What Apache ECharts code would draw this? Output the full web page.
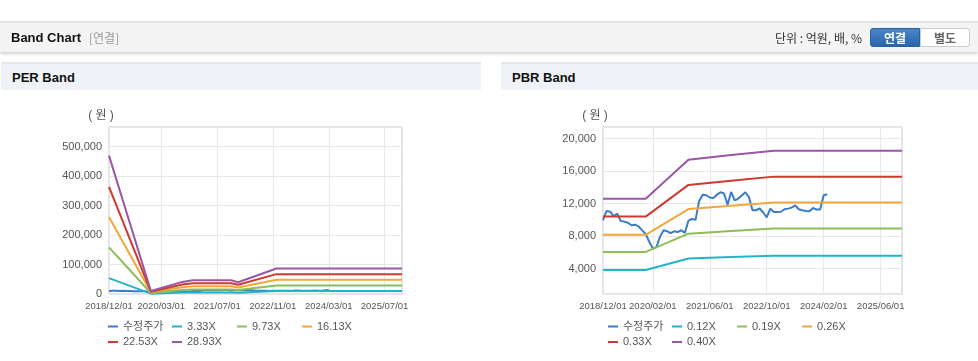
<!DOCTYPE html>
<html><head><meta charset="utf-8">
<script src="https://cdn.jsdelivr.net/npm/echarts@6/dist/echarts.min.js"></script>
<style>
html,body{margin:0;padding:0;background:#fff;width:978px;height:361px;overflow:hidden;font-family:'Liberation Sans','Noto Sans CJK KR',sans-serif;}
#chart{position:absolute;left:0;top:0;width:978px;height:361px;z-index:0;}
.bar{position:absolute;left:0;top:21px;width:978px;height:29px;background:#f4f4f4;border-top:2px solid #e2e2e2;box-shadow:0 2px 3px rgba(0,0,0,0.18);z-index:1;}
.bar .t{position:absolute;left:11px;top:7px;font-size:13px;font-weight:bold;color:#111;}
.bar .s{position:absolute;left:89px;top:8px;font-size:12px;color:#999;font-family:'Noto Sans CJK KR',sans-serif;line-height:14px;}
.bar .u{position:absolute;right:116px;top:7px;font-size:12px;color:#333;font-family:'Noto Sans CJK KR',sans-serif;line-height:15px;}
.btn{position:absolute;top:5px;height:19px;width:50px;font-size:12px;font-weight:bold;text-align:center;line-height:17px;font-family:'Noto Sans CJK KR',sans-serif;box-sizing:border-box;}
.b1{left:870px;background:linear-gradient(#4a86c8,#2a65ac);color:#fff;border-radius:3px 0 0 3px;border:1px solid #2a5f9e;}
.b2{left:920px;background:#fff;color:#666;border:1px solid #ccc;border-radius:0 3px 3px 0;}
.sec{position:absolute;top:62px;height:26px;background:#eff2f6;border-top:2px solid #e4e7eb;z-index:1;}
.sec span{position:absolute;left:11px;top:6px;font-size:13px;font-weight:bold;color:#111;}
</style></head>
<body>
<div class="bar"><span class="t">Band Chart</span><span class="s">[연결]</span><span class="u">단위 : 억원, 배, %</span>
<div class="btn b1">연결</div><div class="btn b2">별도</div></div>
<div class="sec" style="left:1px;width:480px;"><span>PER Band</span></div>
<div class="sec" style="left:501px;width:477px;"><span>PBR Band</span></div>
<div id="chart"></div>
<script>
// ---- categories (monthly) ----
const months = [];
for (let y = 2018, m = 12; months.length < 85; ) {
  months.push(y + '/' + String(m).padStart(2, '0') + '/01');
  m++; if (m > 12) { m = 1; y++; }
}
// ---- adjusted price (수정주가), monthly from 2018/12 ----
const price = [9950, 11100, 11000, 10450, 10750, 9850, 9780, 9650, 9330, 9400, 9200, 8700, 8250, 7300, 6460, 6650,
  7900, 8720, 8600, 8350, 8590, 8500, 8720, 8400, 9900, 10100, 10000, 12300, 13100, 13030, 12750, 12700,
  13100, 13400, 13250, 11850, 13430, 12400, 12620, 13000, 13400, 12800, 11180, 11180, 11400, 10900, 10300, 11380,
  10970, 10970, 11000, 11300, 11380, 11500, 11790, 11300, 11180, 11100, 11050, 11460, 11260, 11260, 13020, 13150];

// ---- PER band key points ----
const perDates = ['2018/12/01', '2019/12/01', '2020/09/01', '2020/12/01', '2021/11/01', '2022/01/01', '2022/12/01', '2025/12/01'];
const per333 = [54000, 1170, 4720, 5360, 5360, 4610, 9950, 9950];
const per973 = [158000, 3410, 13790, 15670, 15670, 13460, 29060, 29060];
const per1613 = [261000, 5650, 22860, 25970, 25970, 22310, 48180, 48180];
const per2253 = [363000, 7890, 31930, 36270, 36270, 31160, 67300, 67300];
const per2893 = [469000, 10130, 41000, 46580, 46580, 40010, 86410, 86410];

// ---- PBR band key points ----
const pbrDates = ['2018/12/01', '2019/12/01', '2020/12/01', '2021/12/01', '2022/12/01', '2025/12/01'];
const pbr012 = [3830, 3830, 5250, 5420, 5580, 5580];
const pbr019 = [6050, 6050, 8300, 8620, 8920, 8920];
const pbr026 = [8150, 8150, 11330, 11720, 12120, 12120];
const pbr033 = [10400, 10400, 14300, 14820, 15320, 15320];
const pbr040 = [12600, 12600, 17400, 17980, 18520, 18520];

const perNames = ['수정주가', '3.33X', '9.73X', '16.13X', '22.53X', '28.93X'];
const pbrNames = ['수정주가', '0.12X', '0.19X', '0.26X', '0.33X', '0.40X'];
const colors = ['#3b7cc9', '#22b5c8', '#8dbd55', '#f3a73b', '#ce3a30', '#9a57a5'];

const pair = (d, v) => d.map((x, i) => [x, v[i]]);
const priceData = price.map((v, i) => [months[i], v]);

const font = "'Liberation Sans','Noto Sans CJK KR',sans-serif";
function xAxis(gi, off) {
  const show = (i) => i === 0 || (i >= off && (i - off) % 16 === 0);
  return {
    type: 'category', gridIndex: gi, data: months, boundaryGap: false,
    axisLine: { show: false }, axisTick: { show: false },
    axisLabel: { interval: show, showMinLabel: true, hideOverlap: false, color: '#555', fontSize: 9.5, margin: 8,
      fontFamily: font },
    splitLine: { show: true, interval: show, lineStyle: { color: '#e8e8e8' } }
  };
}
function yAxis(gi, extra) {
  return Object.assign({
    type: 'value', gridIndex: gi, name: '( 원 )', nameLocation: 'end', nameGap: 5,
    nameTextStyle: { color: '#555', fontSize: 12, padding: [0, 16, 0, 0], fontFamily: font },
    axisLine: { show: false }, axisTick: { show: false },
    axisLabel: { color: '#555', fontSize: 11, margin: 7, showMaxLabel: false, fontFamily: font,
      formatter: (v) => Math.round(v).toLocaleString('en-US') },
    splitLine: { show: true, lineStyle: { color: '#e8e8e8' } }
  }, extra);
}
function line(name, data, ci, gi) {
  return { type: 'line', name: name, data: data, xAxisIndex: gi, yAxisIndex: gi, symbol: 'none',
    lineStyle: { width: 2, color: colors[ci] }, itemStyle: { color: colors[ci] }, animation: false };
}
const series = [
  line(perNames[0], priceData, 0, 0),
  line(perNames[1], pair(perDates, per333), 1, 0),
  line(perNames[2], pair(perDates, per973), 2, 0),
  line(perNames[3], pair(perDates, per1613), 3, 0),
  line(perNames[4], pair(perDates, per2253), 4, 0),
  line(perNames[5], pair(perDates, per2893), 5, 0),
  line(pbrNames[0] + ' ', priceData, 0, 1),
  line(pbrNames[1], pair(pbrDates, pbr012), 1, 1),
  line(pbrNames[2], pair(pbrDates, pbr019), 2, 1),
  line(pbrNames[3], pair(pbrDates, pbr026), 3, 1),
  line(pbrNames[4], pair(pbrDates, pbr033), 4, 1),
  line(pbrNames[5], pair(pbrDates, pbr040), 5, 1)
];
const legendPos = [[0, 0], [64, 0], [129, 0], [194, 0], [0, 15.5], [64, 15.5]];
const legends = [];
series.forEach((s, k) => {
  const base = k < 6 ? 108 : 608;
  const p = legendPos[k % 6];
  legends.push({ data: [s.name], left: base + p[0], top: 321 + p[1], icon: 'rect', itemWidth: 10, itemHeight: 2,
    padding: 0, formatter: (n) => n.trim(),
    textStyle: { color: '#555', fontSize: 11, fontFamily: font } });
});
const chart = echarts.init(document.getElementById('chart'), null, { renderer: 'canvas' });
chart.setOption({
  animation: false,
  color: colors,
  grid: [
    { left: 109, top: 127, width: 293, height: 167, show: true, borderColor: '#c8c8c8', borderWidth: 1, backgroundColor: 'transparent' },
    { left: 603, top: 127, width: 299, height: 167, show: true, borderColor: '#c8c8c8', borderWidth: 1, backgroundColor: 'transparent' }
  ],
  legend: legends,
  xAxis: [xAxis(0, 15), xAxis(1, 14)],
  yAxis: [
    yAxis(0, { min: 0, max: 566000, interval: 100000 }),
    yAxis(1, { min: 870, max: 21430, minInterval: 4000, maxInterval: 4000, axisLabel: { color: '#555', fontSize: 11, margin: 7, showMaxLabel: false, showMinLabel: false, fontFamily: font, formatter: (v) => Math.round(v).toLocaleString('en-US') } })
  ],
  series: series
});
</script>
</body></html>
